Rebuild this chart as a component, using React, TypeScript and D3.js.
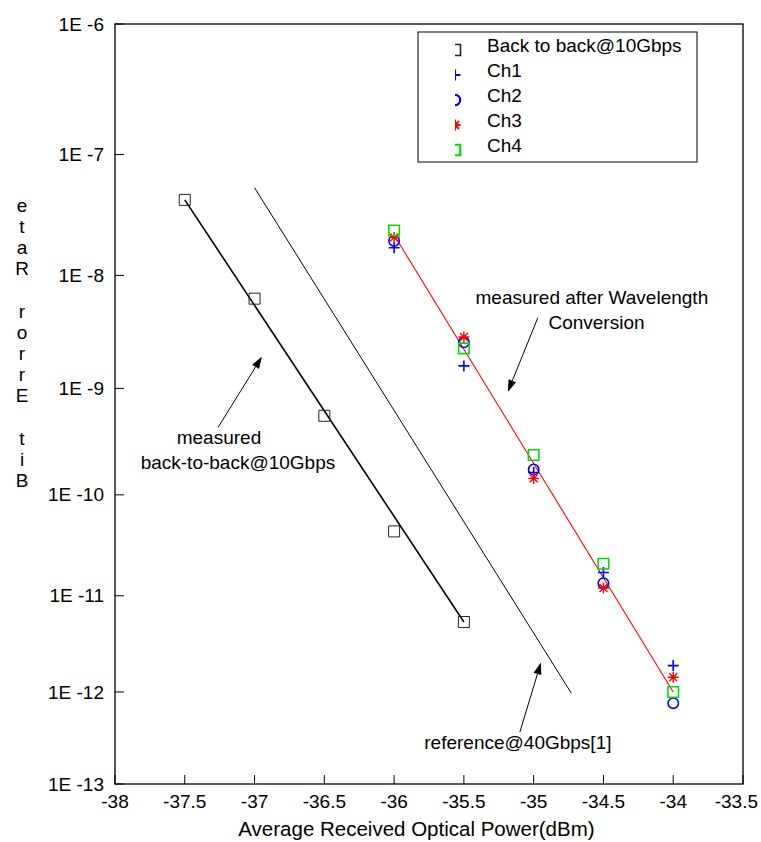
import React from "react";
import * as d3 from "d3";

// measured data (dBm, BER)
const chPower = [-36, -35.5, -35, -34.5, -34];
const ch1 = [1.72e-8, 1.6e-9, 1.64e-10, 1.72e-11, 1.9e-12];
const ch2 = [1.96e-8, 2.6e-9, 1.75e-10, 1.34e-11, 7.6e-13];
const ch3 = [2.1e-8, 2.9e-9, 1.44e-10, 1.2e-11, 1.43e-12];
const ch4 = [2.4e-8, 2.3e-9, 2.4e-10, 2.1e-11, 1.0e-12];

const b2bPower = [-37.5, -37, -36.5, -36, -35.5];
const b2bBer = [4.3e-8, 6.3e-9, 5.6e-10, 4.4e-11, 5.4e-12];

// fitted / reference lines (end points)
const b2bFitPower = [-37.5, -35.5];
const b2bFitBer = [4.3e-8, 5.4e-12];
const convFitPower = [-36, -34];
const convFitBer = [2.2e-8, 1.0e-12];
const refPower = [-37, -34.73];
const refBer = [5.4e-8, 9.7e-13];

const xTicks = [-38, -37.5, -37, -36.5, -36, -35.5, -35, -34.5, -34, -33.5];
const yExps = [-6, -7, -8, -9, -10, -11, -12, -13];

const legendNames = ["Back to back@10Gbps", "Ch1", "Ch2", "Ch3", "Ch4"];

const W = 761;
const H = 842;
const margin = { left: 115, right: 18, top: 24, bottom: 58 };
const FONT = "'Liberation Sans', Arial, sans-serif";

// Q factor for a BER (inverse normal tail, Acklam)
function qOf(p: number) {
  const c = [-7.784894002430293e-3, -3.223964580411365e-1, -2.400758277161838, -2.549732539343734, 4.374664141464968, 2.938163982698783];
  const d = [7.784695709041462e-3, 3.224671290700398e-1, 2.445134137142996, 3.754408661907416];
  const q = Math.sqrt(-2 * Math.log(p));
  const x = (((((c[0] * q + c[1]) * q + c[2]) * q + c[3]) * q + c[4]) * q + c[5]) /
    ((((d[0] * q + d[1]) * q + d[2]) * q + d[3]) * q + 1);
  return -x;
}

const x = d3.scaleLinear().domain([-38, -33.5]).range([margin.left, W - margin.right]);
const yq = d3.scaleLinear().domain([qOf(1e-6), qOf(1e-13)]).range([margin.top, H - margin.bottom]);
const y = (ber: number) => yq(qOf(ber));

const line = d3.line<[number, number]>().x(d => x(d[0])).y(d => y(d[1]));
const zip = (a: number[], b: number[]) => a.map((v, i) => [v, b[i]] as [number, number]);

const square = d3.symbol(d3.symbolSquare, 121)();
const square2 = d3.symbol(d3.symbolSquare, 110)();
const circle = d3.symbol(d3.symbolCircle, 85)();
const plus = (() => {
  const p = d3.path();
  const r = 5.5;
  p.moveTo(-r, 0); p.lineTo(r, 0);
  p.moveTo(0, -r); p.lineTo(0, r);
  return p.toString();
})();
const star = (() => {
  const p = d3.path();
  const r = 5.5, s = r * 0.72;
  p.moveTo(-r, 0); p.lineTo(r, 0);
  p.moveTo(0, -r); p.lineTo(0, r);
  p.moveTo(-s, -s); p.lineTo(s, s);
  p.moveTo(-s, s); p.lineTo(s, -s);
  return p.toString();
})();

const series = [
  { name: legendNames[0], px: b2bPower, ber: b2bBer, path: square, color: "#222", sw: 1 },
  { name: legendNames[1], px: chPower, ber: ch1, path: plus, color: "#0000ff", sw: 1.6 },
  { name: legendNames[2], px: chPower, ber: ch2, path: circle, color: "#0000ff", sw: 1.6 },
  { name: legendNames[3], px: chPower, ber: ch3, path: star, color: "#ff0000", sw: 1.4 },
  { name: legendNames[4], px: chPower, ber: ch4, path: square2, color: "#00dd00", sw: 1.6 },
];

// annotations in data units
const notes = [
  { lines: [{ t: "measured", p: -37.255, b: 3.5e-10 }, { t: "back-to-back@10Gbps", p: -37.119, b: 2.04e-10 }],
    from: [-37.262, 4.35e-10], to: [-36.947, 1.94e-9] },
  { lines: [{ t: "measured after Wavelength", p: -34.583, b: 6.5e-9 }, { t: "Conversion", p: -34.55, b: 3.9e-9 }],
    from: [-34.97, 4.3e-9], to: [-35.185, 9.3e-10] },
  { lines: [{ t: "reference@40Gbps[1]", p: -35.113, b: 2.9e-13 }],
    from: [-35.099, 3.7e-13], to: [-34.948, 2.05e-12] },
];

function Arrow({ from, to }: { from: number[]; to: number[] }) {
  const x1 = x(from[0]), y1 = y(from[1]), x2 = x(to[0]), y2 = y(to[1]);
  const ang = Math.atan2(y2 - y1, x2 - x1);
  const L = 12, hw = 4;
  const bx = x2 - L * Math.cos(ang), by = y2 - L * Math.sin(ang);
  const nx = -Math.sin(ang) * hw, ny = Math.cos(ang) * hw;
  return (
    <g>
      <line x1={x1} y1={y1} x2={bx} y2={by} stroke="#000" strokeWidth={1} />
      <path d={`M${x2},${y2}L${bx + nx},${by + ny}L${bx - nx},${by - ny}Z`} fill="#000" />
    </g>
  );
}

export default function App() {
  const yLabel = "etaR rorrE tiB".split("");
  const lg = { x: 418, y: 32, w: 279, h: 130 };
  const xmax = x.range()[1];
  return (
    <svg width={W} height={H} style={{ position: "absolute", left: 0, top: 0, background: "#fff" }}
      fontFamily={FONT} fontSize={19}>
      <rect width={W} height={H} fill="#fff" />
      {/* axes box */}
      <rect x={x(-38)} y={yq.range()[0]} width={x(-33.5) - x(-38)} height={yq.range()[1] - yq.range()[0]}
        fill="none" stroke="#000" strokeWidth={1.3} />
      {xTicks.map(t => {
        const last = x(t) + 24 > W;
        return (
          <g key={t}>
            <line x1={x(t)} x2={x(t)} y1={H - margin.bottom} y2={H - margin.bottom - 9} stroke="#000" />
            <text x={last ? xmax + 15 : x(t)} y={H - margin.bottom + 24} textAnchor={last ? "end" : "middle"}>{t}</text>
          </g>
        );
      })}
      {yExps.map(e => (
        <g key={e}>
          <line x1={margin.left} x2={margin.left + 9} y1={y(Math.pow(10, e))} y2={y(Math.pow(10, e))} stroke="#000" />
          <text x={margin.left - 11} y={y(Math.pow(10, e))} dy="0.35em" textAnchor="end">{`1E ${e}`}</text>
        </g>
      ))}
      <text x={x(-35.84)} y={H - 6} textAnchor="middle" fontSize={20.5}>
        Average Received Optical Power(dBm)
      </text>
      {yLabel.map((ch, i) => (
        <text key={i} x={22} y={205 + i * 21.2} dy="0.35em" textAnchor="middle">{ch === " " ? "" : ch}</text>
      ))}

      {/* lines */}
      <path d={line(zip(b2bFitPower, b2bFitBer)) || ""} fill="none" stroke="#000" strokeWidth={1.6} />
      <path d={line(zip(refPower, refBer)) || ""} fill="none" stroke="#000" strokeWidth={1} />
      <path d={line(zip(convFitPower, convFitBer)) || ""} fill="none" stroke="#ff0000" strokeWidth={1.1} />

      {/* markers */}
      {series.map(s => (
        <g key={s.name}>
          {s.px.map((p, i) => (
            <path key={i} d={s.path} transform={`translate(${x(p)},${y(s.ber[i])})`}
              fill="none" stroke={s.color} strokeWidth={s.sw} />
          ))}
        </g>
      ))}

      {/* annotations */}
      {notes.map((n, k) => (
        <g key={k}>
          {n.lines.map(l => (
            <text key={l.t} x={x(l.p)} y={y(l.b)} dy="0.35em" textAnchor="middle">{l.t}</text>
          ))}
          <Arrow from={n.from} to={n.to} />
        </g>
      ))}

      {/* legend */}
      <defs>
        <clipPath id="lgclip">
          <rect x={lg.x + 37} y={lg.y} width={10} height={lg.h} />
        </clipPath>
      </defs>
      <rect x={lg.x} y={lg.y} width={lg.w} height={lg.h} fill="#fff" stroke="#000" strokeWidth={1} />
      {series.map((s, i) => {
        const cy = lg.y + 13 + i * 25;
        return (
          <g key={s.name}>
            <g clipPath="url(#lgclip)">
              <path d={s.path} transform={`translate(${lg.x + 37},${cy + 5})`} fill="none"
                stroke={s.color} strokeWidth={s.sw + 0.6} />
            </g>
            <text x={lg.x + 69} y={cy} dy="0.35em">{s.name}</text>
          </g>
        );
      })}
    </svg>
  );
}
